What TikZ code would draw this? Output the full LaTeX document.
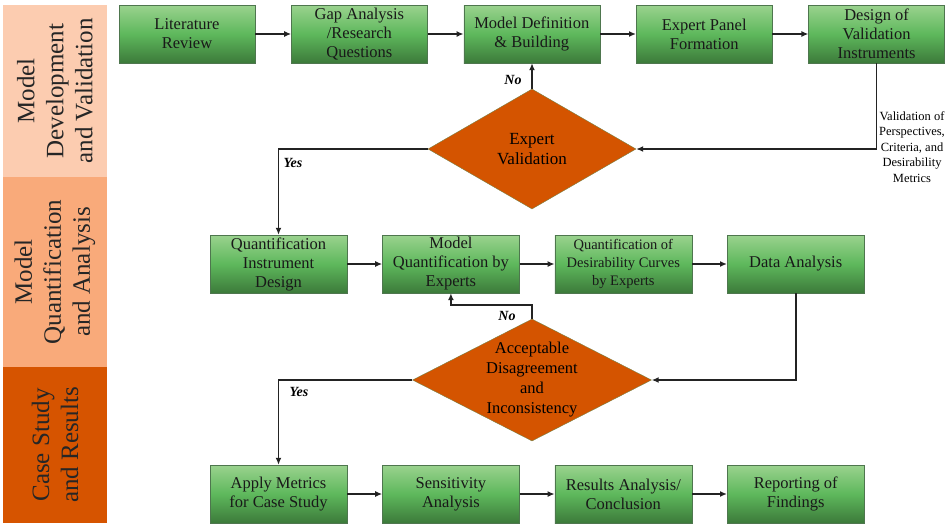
\documentclass[tikz,border=0pt]{standalone}
\usepackage{fontspec}
\setmainfont{Liberation Serif}
\usetikzlibrary{positioning,shapes.geometric,arrows.meta}

\definecolor{boxtop}{RGB}{154,210,142}
\definecolor{boxmid}{RGB}{94,184,92}
\definecolor{boxbot}{RGB}{60,122,58}
\definecolor{boxline}{RGB}{78,118,78}
\definecolor{diafill}{RGB}{212,84,0}
\definecolor{dialine}{RGB}{120,130,70}
\definecolor{bandA}{RGB}{252,204,176}
\definecolor{bandB}{RGB}{249,170,122}
\definecolor{bandC}{RGB}{214,84,0}
\definecolor{linegray}{RGB}{35,35,35}

\begin{document}
\begin{tikzpicture}[x=1pt,y=1pt,>={Latex[length=7pt,width=6pt]},
  proc/.style={rectangle, draw=boxline, top color=boxtop, bottom color=boxbot, middle color=boxmid,
    minimum width=136pt, minimum height=58pt, inner sep=0pt, align=center,
    text=black!90, font=\fontsize{16.5}{19}\selectfont},
  decision/.style={diamond, draw=dialine, fill=diafill, aspect=1.73, inner sep=-6pt,
    minimum width=208pt, minimum height=120pt, align=center, font=\fontsize{17}{20}\selectfont},
  band/.style={rectangle, rotate=90, minimum height=104pt, inner sep=0pt, align=center,
    text=black!85, font=\fontsize{25}{29}\selectfont},
  yn/.style={font=\bfseries\itshape\fontsize{14}{16}\selectfont},
  note/.style={align=center, font=\fontsize{12.5}{15.5}\selectfont},
  conn/.style={draw=linegray, line width=1.6pt}]
\useasboundingbox (0,0) rectangle (949,-523);

% phase bands
\node (bandone) [band, fill=bandA, minimum width=172pt] at (55,-91) {Model\\Development\\and Validation};
\node (bandtwo) [band, fill=bandB, minimum width=190pt] at (55,-272) {Model\\Quantification\\and Analysis};
\node (bandthree) [band, fill=bandC, minimum width=156pt] at (55,-445) {Case Study\\and Results};

% model development
\node (lit) [proc] at (187,-34) {Literature\\Review};
\node (gap) [proc, right=36pt of lit] {Gap Analysis\\/Research\\Questions};
\node (def) [proc, right=36pt of gap] {Model Definition\\\& Building};
\node (panel) [proc, right=36pt of def] {Expert Panel\\Formation};
\node (instr) [proc, right=36pt of panel] {Design of\\Validation\\Instruments};
\node (val) [decision] at (532,-149) {Expert\\Validation};

% quantification
\node (qdes) [proc, minimum width=137pt] at (278.5,-264) {Quantification\\Instrument\\Design};
\node (mq) [proc, minimum width=137pt, right=35pt of qdes] {Model\\Quantification by\\Experts};
\node (qcur) [proc, minimum width=137pt, right=35pt of mq, font=\fontsize{14.5}{18}\selectfont] {Quantification of\\Desirability Curves\\by Experts};
\node (data) [proc, minimum width=137pt, right=35pt of qcur, font=\fontsize{16.5}{19}\selectfont] {Data Analysis};
\node (acc) [decision, aspect=1.96, minimum width=239pt, minimum height=122pt, font=\fontsize{16.5}{20}\selectfont] at (532,-380) {Acceptable\\Disagreement\\and\\Inconsistency};

% case study
\node (apply) [proc, minimum width=137pt] at (278.5,-494) {Apply Metrics\\for Case Study};
\node (sens) [proc, minimum width=137pt, right=35pt of apply] {Sensitivity\\Analysis};
\node (res) [proc, minimum width=137pt, right=35pt of sens] {Results Analysis/\\Conclusion};
\node (rep) [proc, minimum width=137pt, right=35pt of res] {Reporting of\\Findings};

% labels
\node (noone) [yn] at (513,-80) {No};
\node (yesone) [yn] at (293,-163) {Yes};
\node (notwo) [yn] at (507,-316) {No};
\node (yestwo) [yn] at (299,-392) {Yes};
\node (vlabel) [note] at (912,-147) {Validation of\\Perspectives,\\Criteria, and\\Desirability\\Metrics};

% connectors
\path[->, conn] (lit) edge (gap);
\path[->, conn] (gap) edge (def);
\path[->, conn] (def) edge (panel);
\path[->, conn] (panel) edge (instr);
\draw[->, conn] (instr.south) |- (val.east);
\draw[->, conn] (val.north) -- (val.north |- def.south);
\draw[->, conn] (val.west) -| (qdes.north);
\path[->, conn] (qdes) edge (mq);
\path[->, conn] (mq) edge (qcur);
\path[->, conn] (qcur) edge (data);
\draw[->, conn] (data.south) |- (acc.east);
\draw[->, conn] (acc.north) -- ++(0,14) -| (mq.south);
\draw[->, conn] (acc.west) -| (apply.north);
\path[->, conn] (apply) edge (sens);
\path[->, conn] (sens) edge (res);
\path[->, conn] (res) edge (rep);
\end{tikzpicture}
\end{document}
